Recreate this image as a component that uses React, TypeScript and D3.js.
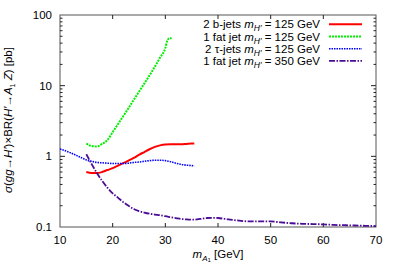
import React, {Component} from 'react';
import * as d3 from "d3";

// m_A1 [GeV] and sigma x BR [pb]
const bjetsMass = [15, 16, 17, 18, 19, 20, 21, 22, 23, 24, 25, 26, 27, 28, 29, 30, 31, 32, 33, 34, 35, 35.5];
const bjetsXsec = [0.6, 0.58, 0.58, 0.6, 0.64, 0.68, 0.74, 0.8, 0.87, 0.95, 1.05, 1.15, 1.26, 1.36, 1.43, 1.47, 1.48, 1.48, 1.48, 1.5, 1.52, 1.52];

const fatjetMass = [15, 16, 17, 18, 19, 20, 21, 22, 23, 24, 25, 26, 27, 28, 29, 30, 30.4, 30.8, 31.2];
const fatjetXsec = [1.52, 1.4, 1.38, 1.5, 1.7, 2.2, 2.85, 3.7, 4.8, 6.3, 8.2, 10.7, 14, 18.5, 25, 34, 44, 47, 47];

const taujetsMass = [10, 11, 12, 13, 14, 15, 16, 17, 18, 19, 20, 21, 22, 23, 24, 25, 26, 27, 28, 29, 30, 31, 32, 33, 34, 35, 35.5];
const taujetsXsec = [1.27, 1.2, 1.12, 1.04, 0.96, 0.89, 0.85, 0.82, 0.81, 0.8, 0.79, 0.79, 0.79, 0.8, 0.82, 0.83, 0.85, 0.87, 0.88, 0.88, 0.87, 0.84, 0.8, 0.77, 0.75, 0.74, 0.73];

const fatjet350Mass = [15, 16, 17, 18, 19, 20, 21, 22, 23, 24, 25, 26, 27, 28, 29, 30, 31, 32, 33, 34, 35, 36, 37, 38, 39, 40, 42, 44, 46, 48, 50, 52, 54, 56, 58, 60, 62, 64, 66, 68, 70];
const fatjet350Xsec = [1.07, 0.78, 0.58, 0.45, 0.36, 0.3, 0.26, 0.225, 0.2, 0.18, 0.168, 0.16, 0.154, 0.15, 0.147, 0.142, 0.138, 0.134, 0.13, 0.128, 0.127, 0.128, 0.131, 0.134, 0.135, 0.134, 0.128, 0.123, 0.12, 0.12, 0.12, 0.116, 0.113, 0.111, 0.11, 0.109, 0.107, 0.106, 0.105, 0.104, 0.103];

const xTicks = [10, 20, 30, 40, 50, 60, 70];
const yTicks = [0.1, 1, 10, 100];
const yTickLabels = ["0.1", "1", "10", "100"];

const seriesNames = ["2 b-jets", "1 fat jet", "2 \u03c4-jets", "1 fat jet"];
const seriesHiggs = ["125", "125", "125", "350"];

class CrossSectionChart extends Component {
    svgRef = React.createRef<SVGSVGElement>();

    componentDidMount() {
        this.drawChart();
    }

    drawChart() {
        const margin = {top: 15, right: 22, bottom: 52, left: 60};
        const width = 398 - margin.left - margin.right,
            height = 279 - margin.top - margin.bottom;

        const root = d3.select(this.svgRef.current);
        root.selectAll("*").remove();

        const svg = root.append("g")
            .attr("transform", "translate(" + margin.left + "," + margin.top + ")");

        const x = d3.scaleLinear().domain([10, 70]).range([0, width]);
        const y = d3.scaleLog().domain([0.1, 100]).range([height, 0]);

        const font = "'Liberation Sans', Arial, sans-serif";

        //frame
        svg.append("rect")
            .attr("width", width)
            .attr("height", height)
            .attr("fill", "none")
            .attr("stroke", "#555")
            .attr("stroke-width", 1);

        //x ticks on bottom and top
        xTicks.forEach(function (t) {
            if (t === 10 || t === 70) return;
            svg.append("line")
                .attr("x1", x(t)).attr("x2", x(t))
                .attr("y1", height).attr("y2", height - 4)
                .attr("stroke", "#222");
            svg.append("line")
                .attr("x1", x(t)).attr("x2", x(t))
                .attr("y1", 0).attr("y2", 4)
                .attr("stroke", "#222");
        });
        svg.selectAll(".xlabel")
            .data(xTicks)
            .enter()
            .append("text")
            .attr("x", function (d) { return x(d); })
            .attr("y", height + 17)
            .attr("text-anchor", "middle")
            .attr("font-family", font)
            .attr("font-size", 11.5)
            .text(function (d) { return d; });

        //y ticks, major and minor, on both sides
        const minor: number[] = [];
        [0.1, 1, 10].forEach(function (dec) {
            for (let k = 2; k <= 9; k++) minor.push(dec * k);
        });
        minor.forEach(function (v) {
            svg.append("line")
                .attr("x1", 0).attr("x2", 2.5)
                .attr("y1", y(v)).attr("y2", y(v))
                .attr("stroke", "#222");
            svg.append("line")
                .attr("x1", width).attr("x2", width - 2.5)
                .attr("y1", y(v)).attr("y2", y(v))
                .attr("stroke", "#222");
        });
        yTicks.forEach(function (v, i) {
            if (i > 0 && i < yTicks.length - 1) {
                svg.append("line")
                    .attr("x1", 0).attr("x2", 5)
                    .attr("y1", y(v)).attr("y2", y(v))
                    .attr("stroke", "#222");
                svg.append("line")
                    .attr("x1", width).attr("x2", width - 5)
                    .attr("y1", y(v)).attr("y2", y(v))
                    .attr("stroke", "#222");
            }
            svg.append("text")
                .attr("x", -8)
                .attr("y", y(v) + 4)
                .attr("text-anchor", "end")
                .attr("font-family", font)
                .attr("font-size", 11.5)
                .text(yTickLabels[i]);
        });

        //curves
        const line = d3.line<[number, number]>()
            .x(function (d) { return x(d[0]); })
            .y(function (d) { return y(d[1]); })
            .curve(d3.curveMonotoneX);

        const series = [
            {mass: bjetsMass, xsec: bjetsXsec, color: "#ff0000", dash: null, w: 2},
            {mass: fatjetMass, xsec: fatjetXsec, color: "#00ee00", dash: "2,1", w: 2},
            {mass: taujetsMass, xsec: taujetsXsec, color: "#0000ff", dash: "1.5,1", w: 1.6},
            {mass: fatjet350Mass, xsec: fatjet350Xsec, color: "#4b0c96", dash: "6,1.5,1.5,1.5", w: 1.8},
        ];

        const plot = svg.append("g");
        series.forEach(function (s) {
            const pts = s.mass.map(function (m, i) { return [m, s.xsec[i]] as [number, number]; });
            plot.append("path")
                .attr("d", line(pts))
                .attr("fill", "none")
                .attr("stroke", s.color)
                .attr("stroke-width", s.w)
                .attr("stroke-dasharray", s.dash);
        });

        //legend
        const legend = svg.append("g");
        series.forEach(function (s, i) {
            const ly = 9.3 + i * 12.2;
            const t = legend.append("text")
                .attr("x", 320 - margin.left)
                .attr("y", ly + 4)
                .attr("text-anchor", "end")
                .attr("font-family", font)
                .attr("font-size", 11.5);
            t.append("tspan").text(seriesNames[i] + " ");
            t.append("tspan").attr("font-style", "italic").text("m");
            t.append("tspan").attr("font-style", "italic").attr("font-size", 8.5).attr("dy", 3).text("H\u2032");
            t.append("tspan").attr("dy", -3).text(" = " + seriesHiggs[i] + " GeV");
            legend.append("line")
                .attr("x1", 329 - margin.left).attr("x2", 362 - margin.left)
                .attr("y1", ly).attr("y2", ly)
                .attr("stroke", s.color)
                .attr("stroke-width", s.w)
                .attr("stroke-dasharray", s.dash);
        });

        //axis titles
        const xt = svg.append("text")
            .attr("x", x(40))
            .attr("y", height + 31)
            .attr("text-anchor", "middle")
            .attr("font-family", font)
            .attr("font-size", 11.5);
        xt.append("tspan").attr("font-style", "italic").text("m");
        xt.append("tspan").attr("font-style", "italic").attr("font-size", 8).attr("dy", 3).text("A");
        xt.append("tspan").attr("font-size", 6).attr("dy", 1).text("1");
        xt.append("tspan").attr("dy", -4).text(" [GeV]");

        const yt = svg.append("text")
            .attr("transform", "translate(" + (-48) + "," + (height / 2 - 1) + ") rotate(-90)")
            .attr("text-anchor", "middle")
            .attr("font-family", font)
            .attr("font-size", 11.5);
        yt.append("tspan").attr("font-style", "italic").text("\u03c3");
        yt.append("tspan").text("(");
        yt.append("tspan").attr("font-style", "italic").text("gg");
        yt.append("tspan").text("\u2192");
        yt.append("tspan").attr("font-style", "italic").text("H\u2032");
        yt.append("tspan").text(")\u00d7BR(");
        yt.append("tspan").attr("font-style", "italic").text("H\u2032");
        yt.append("tspan").text("\u2192");
        yt.append("tspan").attr("font-style", "italic").text("A");
        yt.append("tspan").attr("font-size", 7).attr("dy", 3).text("1");
        yt.append("tspan").attr("dy", -3).text(" ");
        yt.append("tspan").attr("font-style", "italic").text("Z");
        yt.append("tspan").text(") [pb]");
    }

    render() {
        return <svg ref={this.svgRef} width={398} height={279}
                    style={{position: "absolute", left: 0, top: 0, background: "#fff"}}></svg>;
    }
}

export default function App() {
    return <CrossSectionChart/>;
}
